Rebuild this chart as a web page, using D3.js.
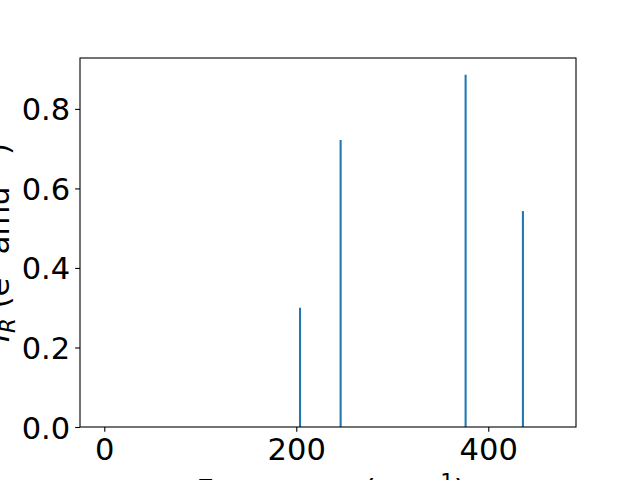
<!DOCTYPE html>
<html>
<head>
<meta charset="utf-8">
<script src="https://cdn.jsdelivr.net/npm/d3@7"></script>
<style>
  body { margin: 0; background: #fff; }
  svg { display: block; font-family: "DejaVu Sans", sans-serif; }
</style>
</head>
<body>
<svg id="chart" width="640" height="480"></svg>
<script>
// Data
const frequencies = [203.9, 246.2, 376.4, 436.1];
const intensities = [0.300, 0.722, 0.886, 0.543];
const xTicks = [0, 200, 400];
const yTicks = [0.0, 0.2, 0.4, 0.6, 0.8];

const W = 640, H = 480;
const margin = { left: 80, right: 64, top: 58, bottom: 53 };
const svg = d3.select("#chart");
svg.append("rect").attr("width", W).attr("height", H).attr("fill", "#fff");

const x = d3.scaleLinear().domain([-25.3, 491.4]).range([margin.left, W - margin.right]);
const y = d3.scaleLinear().domain([0, 0.928]).range([H - margin.bottom, margin.top]);

const fs = 30.56;

// Stem lines
svg.append("g").selectAll("line").data(frequencies).join("line")
  .attr("x1", d => x(d)).attr("x2", d => x(d))
  .attr("y1", y(0)).attr("y2", (d, i) => y(intensities[i]))
  .attr("stroke", "#1f77b4").attr("stroke-width", 2.08);

// Axes
const xAxis = d3.axisBottom(x).tickValues(xTicks).tickFormat(d3.format("d"))
  .tickSize(4.86).tickPadding(4.86);
const yAxis = d3.axisLeft(y).tickValues(yTicks).tickFormat(d3.format(".1f"))
  .tickSize(4.86).tickPadding(4.86);

const gx = svg.append("g").attr("transform", `translate(0,${H - margin.bottom})`).call(xAxis);
const gy = svg.append("g").attr("transform", `translate(${margin.left},0)`).call(yAxis);
[gx, gy].forEach(g => {
  g.select(".domain").remove();
  g.selectAll(".tick line").attr("stroke", "#000").attr("stroke-width", 1.1);
  g.selectAll(".tick text").attr("fill", "#000").attr("font-size", fs)
    .attr("font-family", "DejaVu Sans");
});
gy.selectAll(".tick text").attr("dy", "0.36em");
gx.selectAll(".tick text").attr("dy", "0.76em");

// Frame
svg.append("rect")
  .attr("x", margin.left).attr("y", margin.top)
  .attr("width", W - margin.left - margin.right)
  .attr("height", H - margin.top - margin.bottom)
  .attr("fill", "none").attr("stroke", "#000").attr("stroke-width", 1.1);

// X label
const sup = 12, sub = 6;
const xl = svg.append("text")
  .attr("x", 331).attr("y", 500.5)
  .attr("text-anchor", "middle").attr("font-size", fs).attr("fill", "#000");
xl.append("tspan").text("Frequency (cm");
xl.append("tspan").attr("dy", -sup).attr("font-size", fs * 0.7).text("−1");
xl.append("tspan").attr("dy", sup).text(")");

// Y label
const cy = (margin.top + H - margin.bottom) / 2;
const yl = svg.append("text")
  .attr("transform", `translate(9,${cy}) rotate(-90)`)
  .attr("text-anchor", "middle").attr("font-size", fs).attr("fill", "#000");
yl.append("tspan").attr("font-style", "italic").text("I");
yl.append("tspan").attr("font-style", "italic").attr("dy", sub).attr("font-size", fs * 0.7).text("R");
yl.append("tspan").attr("dy", -sub).text(" (e");
yl.append("tspan").attr("dy", -sup).attr("font-size", fs * 0.7).text("2");
yl.append("tspan").attr("dy", sup).text(" amu");
yl.append("tspan").attr("dy", -sup).attr("font-size", fs * 0.7).text("−1");
yl.append("tspan").attr("dy", sup).text(")");
</script>
</body>
</html>
